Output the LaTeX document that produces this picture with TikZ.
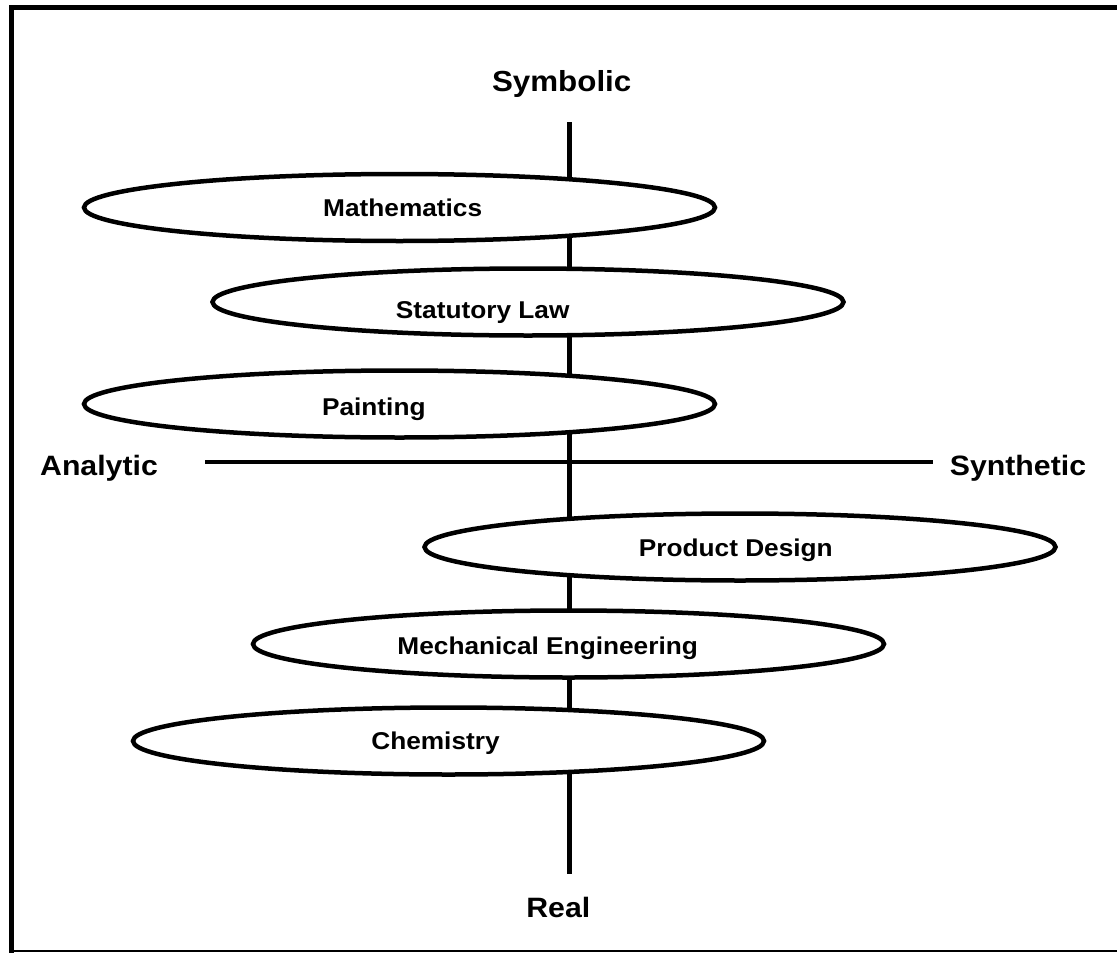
\documentclass[tikz,border=0pt]{standalone}
\usepackage{fontspec}
\setmainfont[FakeStretch=1.08]{Liberation Sans}
\usetikzlibrary{shapes.geometric}
\begin{document}
\begin{tikzpicture}[x=1pt,y=-1pt,
  oval/.style={ellipse, draw, fill=white, line width=4.5pt, minimum width=631pt, minimum height=67pt, inner sep=0pt},
  lab/.style={font=\fontsize{24.3}{28}\selectfont\bfseries, anchor=base, inner sep=0pt},
  axlab/.style={font=\fontsize{28}{32}\selectfont\bfseries, anchor=base, inner sep=0pt},
  axisline/.style={line width=4.5pt},
  frameline/.style={line width=5pt}]
\useasboundingbox (0,0) rectangle (1117,953);
% frame
\draw[frameline] (11.5,953) -- (11.5,7.5) -- (1117,7.5);
\draw[line width=2pt] (9,951) -- (1117,951);
% axes
\coordinate (vtop) at (569.5,122);
\coordinate (vbot) at (569.5,874);
\coordinate (hleft) at (205,462);
\coordinate (hright) at (933,462);
\draw[axisline] (vtop) -- (vbot);
% ellipses
\node[oval] (math) at (399.5,207.5) {};
\node[oval] (stat) at (528,302) {};
\node[oval] (paint) at (399.5,404) {};
\node[oval] (prod) at (740,547) {};
\node[oval] (mech) at (568.5,644) {};
\node[oval] (chem) at (448.5,741) {};
\draw[axisline] (hleft) -- (hright);
% labels
\node[lab] (tmath) at (402.7,216.7) {Mathematics};
\node[lab] (tstat) at (482.7,318.3) {Statutory Law};
\node[lab] (tpaint) at (373.8,415.3) {Painting};
\node[lab] (tprod) at (735.8,556) {Product Design};
\node[lab] (tmech) at (547.7,654.3) {Mechanical Engineering};
\node[lab] (tchem) at (435.5,749) {Chemistry};
% axis labels
\node[axlab, font=\fontsize{29}{32}\selectfont\bfseries] (sym) at (561.7,91.7) {Symbolic};
\node[axlab] (real) at (558.3,917.3) {Real};
\node[axlab] (ana) at (99,475) {Analytic};
\node[axlab] (syn) at (1018,475) {Synthetic};
\end{tikzpicture}
\end{document}
